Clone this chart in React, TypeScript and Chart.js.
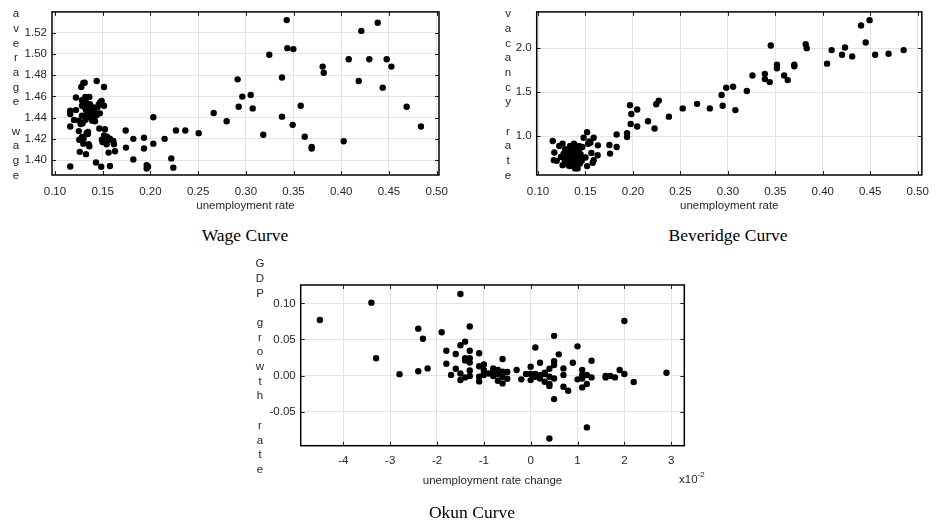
import { useEffect, useRef } from "react";
import { Chart, registerables } from "chart.js";

Chart.register(...registerables);

// ---------- Wage curve ----------
const wageUnemployment = [
  0.116, 0.116, 0.116, 0.116, 0.122, 0.122, 0.12, 0.125, 0.125, 0.1255, 0.126, 0.1276, 0.1297, 0.1311, 0.1283,
  0.1283, 0.1283, 0.129, 0.1283, 0.1297, 0.1318, 0.1325, 0.1325, 0.133, 0.1332, 0.1325, 0.1346, 0.1353, 0.136,
  0.136, 0.1367, 0.1367, 0.1374, 0.1388, 0.1402, 0.1416, 0.142, 0.143, 0.1437, 0.1437, 0.1444, 0.1458, 0.1472,
  0.1489, 0.1465, 0.1514, 0.1514, 0.1524, 0.1514, 0.1534, 0.1492, 0.1499, 0.1541, 0.1562, 0.1562, 0.1576, 0.1611,
  0.1618, 0.1629, 0.143, 0.1485, 0.1576, 0.1741, 0.1744, 0.1821, 0.1821, 0.1933, 0.1933, 0.1961, 0.1961, 0.1975,
  0.2031, 0.2031, 0.2149, 0.2219, 0.224, 0.2268, 0.2366, 0.2506,
  0.131, 0.134, 0.138, 0.135, 0.139, 0.141, 0.127, 0.132, 0.13, 0.1345, 0.147, 0.1545,
  0.2663, 0.2799, 0.2914, 0.2925, 0.2963, 0.3051, 0.3072, 0.3183, 0.3246, 0.3379, 0.3379, 0.3428, 0.3435, 0.3491,
  0.3498, 0.3575, 0.3617, 0.369, 0.369, 0.3805, 0.3816, 0.4025, 0.4078, 0.4183, 0.421, 0.4294, 0.4382, 0.4434,
  0.4476, 0.4525, 0.4685, 0.4835,
];
const averageWage = [
  1.394, 1.4465, 1.4434, 1.4316, 1.4589, 1.4471, 1.4378, 1.4372, 1.4273, 1.4192, 1.4078, 1.4688, 1.4726, 1.4729,
  1.4564, 1.4512, 1.4419, 1.4347, 1.4217, 1.4155, 1.4595, 1.4543, 1.4471, 1.4425, 1.4254, 1.4056, 1.4264, 1.4149,
  1.413, 1.4595, 1.4527, 1.4465, 1.4403, 1.4372, 1.4496, 1.4434, 1.4366, 1.4419, 1.4744, 1.4428, 1.4496, 1.4521,
  1.4543, 1.4558, 1.4298, 1.4688, 1.4512, 1.4291, 1.4233, 1.4217, 1.4192, 1.4171, 1.4149, 1.4186, 1.4071, 1.4202,
  1.418, 1.4149, 1.4084, 1.3978, 1.3938, 1.3944, 1.4279, 1.4118, 1.42, 1.4006, 1.4211, 1.4109, 1.3953, 1.3922,
  1.3938, 1.4403, 1.4155, 1.42, 1.4016, 1.3929, 1.4279, 1.4279, 1.4254,
  1.45, 1.448, 1.444, 1.441, 1.447, 1.446, 1.434, 1.438, 1.42, 1.4245, 1.444, 1.422,
  1.4443, 1.4366, 1.476, 1.4502, 1.4598, 1.4614, 1.4487, 1.4239, 1.4992, 1.4778, 1.4409, 1.5318, 1.5054, 1.4332,
  1.5045, 1.4512, 1.422, 1.4124, 1.4109, 1.488, 1.4822, 1.4177, 1.4949, 1.4744, 1.5216, 1.4949, 1.5293, 1.4682,
  1.4949, 1.488, 1.4502, 1.4316,
];
const wageXTicks = [0.1, 0.15, 0.2, 0.25, 0.3, 0.35, 0.4, 0.45, 0.5];
const wageYTicks = [1.4, 1.42, 1.44, 1.46, 1.48, 1.5, 1.52];

// ---------- Beveridge curve ----------
const bevUnemployment = [
  0.1155, 0.1172, 0.1166, 0.1197, 0.1224, 0.1259, 0.1241, 0.1259, 0.1286, 0.1293, 0.13, 0.1321, 0.1328, 0.1338,
  0.1345, 0.1355, 0.1369, 0.1379, 0.139, 0.139, 0.1403, 0.1414, 0.1417, 0.1431, 0.1441, 0.1448, 0.1466, 0.148, 0.15,
  0.1517, 0.1517, 0.1528, 0.1552, 0.1562, 0.1586, 0.1586, 0.1576, 0.1631, 0.1628, 0.1441, 0.1397,
  0.127, 0.131, 0.135, 0.137, 0.14, 0.133, 0.128, 0.143, 0.146, 0.154,
  0.1752, 0.1759, 0.1828, 0.1828, 0.1938, 0.1938, 0.1969, 0.1983, 0.1976, 0.2045, 0.2045, 0.2159, 0.2228, 0.2245,
  0.2272, 0.2379,
  0.2524, 0.2676, 0.281, 0.2934, 0.2945, 0.2983, 0.3055, 0.3079, 0.32, 0.3259, 0.339, 0.339, 0.3441, 0.3452, 0.3517,
  0.3517, 0.3593, 0.3631, 0.37, 0.37, 0.382, 0.3831, 0.4045, 0.4093, 0.4203, 0.4234, 0.431, 0.4403, 0.4452, 0.4493,
  0.4552, 0.4693, 0.4852,
];
const vacancyRate = [
  0.944, 0.813, 0.727, 0.719, 0.888, 0.914, 0.764, 0.67, 0.85, 0.764, 0.682, 0.82, 0.727, 0.888, 0.783, 0.663, 0.727,
  0.914, 0.82, 0.633, 0.876, 0.764, 0.633, 0.888, 0.689, 0.794, 0.876, 0.981, 0.757, 1.045, 0.659, 0.914, 0.926,
  0.809, 0.981, 0.727, 0.697, 0.895, 0.783, 0.783, 0.727,
  0.8, 0.7, 0.85, 0.76, 0.68, 0.66, 0.73, 0.84, 0.72, 0.94,
  0.899, 0.801, 1.019, 0.876, 1.034, 0.989, 1.352, 1.251, 1.139, 1.303, 1.109, 1.169, 1.086, 1.363, 1.404, 1.221,
  1.315, 1.367, 1.315, 1.468, 1.345, 1.551, 1.562, 1.296, 1.513, 1.689, 1.708, 1.648, 1.614, 2.03, 1.813, 1.772,
  1.689, 1.637, 1.813, 1.794, 2.045, 2.0, 1.824, 1.978, 1.925, 2.007, 1.906, 2.258, 2.064, 2.318, 1.925, 1.936, 1.978,
];
const bevXTicks = [0.1, 0.15, 0.2, 0.25, 0.3, 0.35, 0.4, 0.45, 0.5];
const bevYTicks = [1.0, 1.5, 2.0];

// ---------- Okun curve ----------
const unemploymentChange = [
  -4.5, -3.4, -3.3, -2.8, -2.4, -2.4, -2.3, -2.2, -1.9, -1.8, -1.8, -1.7, -1.6, -1.6, -1.5, -1.5, -1.5, -1.5, -1.4,
  -1.4, -1.4, -1.4, -1.3, -1.3, -1.3, -1.3, -1.3, -1.3, -1.1, -1.1, -1.1, -1.1, -1.0, -1.0, -1.0, -0.8, -0.8, -0.8,
  -0.7, -0.7, -0.6, -0.6, -0.6, -0.6, -0.5, -0.5, -0.3, -0.2, -0.1, 0.0, 0.0, 0.0, 0.1, 0.1, 0.1, 0.2, 0.2, 0.3, 0.3,
  0.4, 0.4, 0.4, 0.4, 0.4, 0.5, 0.5, 0.5, 0.5, 0.5, 0.6, 0.7, 0.7, 0.7, 0.8, 0.9, 1.0, 1.0, 1.1, 1.1, 1.1, 1.1, 1.2,
  1.2, 1.2, 1.3, 1.3, 1.6, 1.6, 1.7, 1.8, 1.9, 2.0, 2.0, 2.2, 2.9,
  -0.9, -0.7, 0.2, 0.3, -0.8, -1.0,
];
const gdpGrowth = [
  0.077, 0.101, 0.024, 0.002, 0.065, 0.006, 0.051, 0.01, 0.06, 0.0345, 0.0165, 0.001, 0.03, 0.0095, 0.113, 0.042,
  0.003, -0.006, 0.047, 0.024, 0.021, -0.0025, 0.068, 0.0345, 0.024, 0.018, 0.007, -0.0006, 0.031, 0.013, -0.0015,
  -0.008, 0.0155, 0.0077, 0.0008, 0.01, 0.0054, -0.0006, 0.0077, -0.0071, 0.023, 0.0054, -0.0015, -0.0108, 0.005,
  -0.0043, 0.0077, -0.0052, 0.0022, 0.0123, 0.0022, -0.0062, 0.039, 0.0022, -0.0015, 0.0178, -0.0039, 0.0022,
  -0.0085, 0.0095, -0.0015, -0.0117, -0.0145, -0.087, 0.055, 0.02, 0.0146, -0.0039, -0.0325, 0.0294, 0.01, 0.0008,
  -0.0154, -0.0209, 0.0178, 0.0405, -0.0052, 0.0077, 0.0008, -0.0039, -0.0163, 0.0008, -0.0117, -0.0717, 0.0206,
  -0.0025, -0.0006, -0.0025, -0.0006, -0.0025, 0.0077, 0.0755, 0.0022, -0.0089, 0.004,
  0.003, 0.002, 0.001, 0.004, 0.004, 0.003,
];
const okunXTicks = [-4, -3, -2, -1, 0, 1, 2, 3];
const okunYTicks = [-0.05, 0, 0.05, 0.1];

const SANS = "'Liberation Sans', Arial, Helvetica, sans-serif";
const SERIF = "'Liberation Serif', 'Times New Roman', serif";
const TEXT = "#262626";

const framePlugin = {
  id: "frame",
  afterDraw(chart: any, _args: any, opts: any) {
    const { ctx, chartArea: a, scales } = chart;
    ctx.save();
    ctx.strokeStyle = "#222";
    ctx.lineWidth = 1;
    const L = 4;
    scales.x.ticks.forEach((t: any) => {
      const px = Math.round(scales.x.getPixelForValue(t.value)) + 0.5;
      ctx.beginPath();
      ctx.moveTo(px, a.bottom);
      ctx.lineTo(px, a.bottom - L);
      ctx.moveTo(px, a.top);
      ctx.lineTo(px, a.top + L);
      ctx.stroke();
    });
    scales.y.ticks.forEach((t: any) => {
      const py = Math.round(scales.y.getPixelForValue(t.value)) + 0.5;
      ctx.beginPath();
      ctx.moveTo(a.left, py);
      ctx.lineTo(a.left + L, py);
      ctx.moveTo(a.right, py);
      ctx.lineTo(a.right - L, py);
      ctx.stroke();
    });
    ctx.lineWidth = 1.5;
    ctx.strokeStyle = "#000";
    ctx.strokeRect(a.left, a.top, a.right - a.left, a.bottom - a.top);

    ctx.fillStyle = TEXT;
    ctx.font = `11.5px ${SANS}`;
    ctx.textAlign = "center";
    ctx.textBaseline = "middle";
    const chars = String(opts.label || "").split("");
    chars.forEach((c: string, i: number) => {
      if (c.trim()) ctx.fillText(c, opts.lx, opts.ly + i * opts.ldy);
    });
    if (opts.exponent) {
      ctx.textAlign = "left";
      ctx.fillText(opts.exponent.base, opts.exponent.x, opts.exponent.y);
      const w = ctx.measureText(opts.exponent.base).width;
      ctx.font = `8px ${SANS}`;
      ctx.fillText(opts.exponent.power, opts.exponent.x + w, opts.exponent.y - 5);
    }
    ctx.restore();
  },
};

function makeConfig(p: any) {
  const data = p.xs.map((x: number, i: number) => ({ x, y: p.ys[i] }));
  const tickFont = { family: SANS, size: 11.5 };
  return {
    type: "scatter",
    data: {
      datasets: [
        {
          data,
          backgroundColor: "#000",
          borderColor: "#000",
          borderWidth: 0,
          pointRadius: 3.2,
          pointHoverRadius: 3.2,
        },
      ],
    },
    plugins: [framePlugin],
    options: {
      animation: false,
      responsive: false,
      devicePixelRatio: 1,
      events: [],
      layout: { padding: p.padding },
      plugins: {
        legend: { display: false },
        tooltip: { enabled: false },
        frame: p.frame,
      },
      scales: {
        x: {
          type: "linear",
          min: p.xMin,
          max: p.xMax,
          afterBuildTicks: (s: any) => {
            s.ticks = p.xTicks.map((v: number) => ({ value: v }));
          },
          afterFit: (s: any) => {
            s.height = p.xHeight;
          },
          grid: { color: "#e4e4e4", lineWidth: 1, drawTicks: false },
          border: { display: false },
          ticks: {
            autoSkip: false,
            maxRotation: 0,
            padding: p.xPad,
            color: TEXT,
            font: tickFont,
            callback: p.xFmt,
          },
          title: {
            display: true,
            text: p.xTitle,
            color: TEXT,
            font: tickFont,
            padding: { top: 0, bottom: p.xTitlePad },
          },
        },
        y: {
          type: "linear",
          min: p.yMin,
          max: p.yMax,
          afterBuildTicks: (s: any) => {
            s.ticks = p.yTicks.map((v: number) => ({ value: v }));
          },
          afterFit: (s: any) => {
            s.width = p.yWidth;
          },
          grid: { color: "#e4e4e4", lineWidth: 1, drawTicks: false },
          border: { display: false },
          ticks: {
            autoSkip: false,
            padding: 5,
            color: TEXT,
            font: tickFont,
            callback: p.yFmt,
          },
        },
      },
    },
  };
}

function ScatterPanel(props: { left: number; top: number; width: number; height: number; cfg: any }) {
  const ref = useRef<HTMLCanvasElement | null>(null);
  useEffect(() => {
    if (!ref.current) return;
    const chart = new Chart(ref.current, makeConfig(props.cfg) as any);
    return () => chart.destroy();
  }, []);
  return (
    <canvas
      ref={ref}
      width={props.width}
      height={props.height}
      style={{
        position: "absolute",
        left: props.left,
        top: props.top,
        width: props.width,
        height: props.height,
      }}
    />
  );
}

const captionStyle = (cx: number, cy: number) => ({
  position: "absolute" as const,
  left: cx - 150,
  top: cy - 12,
  width: 300,
  height: 24,
  lineHeight: "24px",
  textAlign: "center" as const,
  fontFamily: SERIF,
  fontSize: 17.5,
  color: "#000",
  whiteSpace: "nowrap" as const,
});

export default function App() {
  const wageCfg = {
    xs: wageUnemployment,
    ys: averageWage,
    xMin: 0.0969,
    xMax: 0.5024,
    yMin: 1.386,
    yMax: 1.5395,
    xTicks: wageXTicks,
    yTicks: wageYTicks,
    xFmt: (v: any) => Number(v).toFixed(2),
    yFmt: (v: any) => Number(v).toFixed(2),
    padding: { left: 0, top: 10, right: 31, bottom: 0 },
    yWidth: 52,
    xHeight: 45,
    xPad: 10,
    xTitle: "unemployment rate",
    xTitlePad: 7.4,
    frame: { label: "average wage", lx: 16, ly: 14, ldy: 14.7 },
  };
  const bevCfg = {
    xs: bevUnemployment,
    ys: vacancyRate,
    xMin: 0.0986,
    xMax: 0.5044,
    yMin: 0.558,
    yMax: 2.412,
    xTicks: bevXTicks,
    yTicks: bevYTicks,
    xFmt: (v: any) => Number(v).toFixed(2),
    yFmt: (v: any) => Number(v).toFixed(1),
    padding: { left: 0, top: 10, right: 9.7, bottom: 0 },
    yWidth: 66.7,
    xHeight: 45,
    xPad: 10,
    xTitle: "unemployment rate",
    xTitlePad: 7.4,
    frame: { label: "vacancy rate", lx: 38, ly: 14, ldy: 14.7 },
  };
  const okunCfg = {
    xs: unemploymentChange,
    ys: gdpGrowth,
    xMin: -4.91,
    xMax: 3.28,
    yMin: -0.097,
    yMax: 0.1254,
    xTicks: okunXTicks,
    yTicks: okunYTicks,
    xFmt: (v: any) => String(Math.round(Number(v))),
    yFmt: (v: any) => Number(v).toFixed(2),
    padding: { left: 0, top: 35, right: 35.7, bottom: 0 },
    yWidth: 60.7,
    xHeight: 80.3,
    xPad: 8,
    xTitle: "unemployment rate change",
    xTitlePad: 38.1,
    frame: {
      label: "GDP growth rate",
      lx: 20,
      ly: 14,
      ldy: 14.7,
      exponent: { base: "x10", power: "-2", x: 439, y: 230 },
    },
  };
  return (
    <div style={{ position: "absolute", left: 0, top: 0, width: 939, height: 526, background: "#fff", overflow: "hidden" }}>
      <ScatterPanel left={0} top={0} width={470} height={220} cfg={wageCfg} />
      <ScatterPanel left={470} top={0} width={469} height={220} cfg={bevCfg} />
      <ScatterPanel left={240} top={250} width={480} height={276} cfg={okunCfg} />
      <div style={captionStyle(245, 235)}>Wage Curve</div>
      <div style={captionStyle(728, 235)}>Beveridge Curve</div>
      <div style={captionStyle(472, 512)}>Okun Curve</div>
    </div>
  );
}
